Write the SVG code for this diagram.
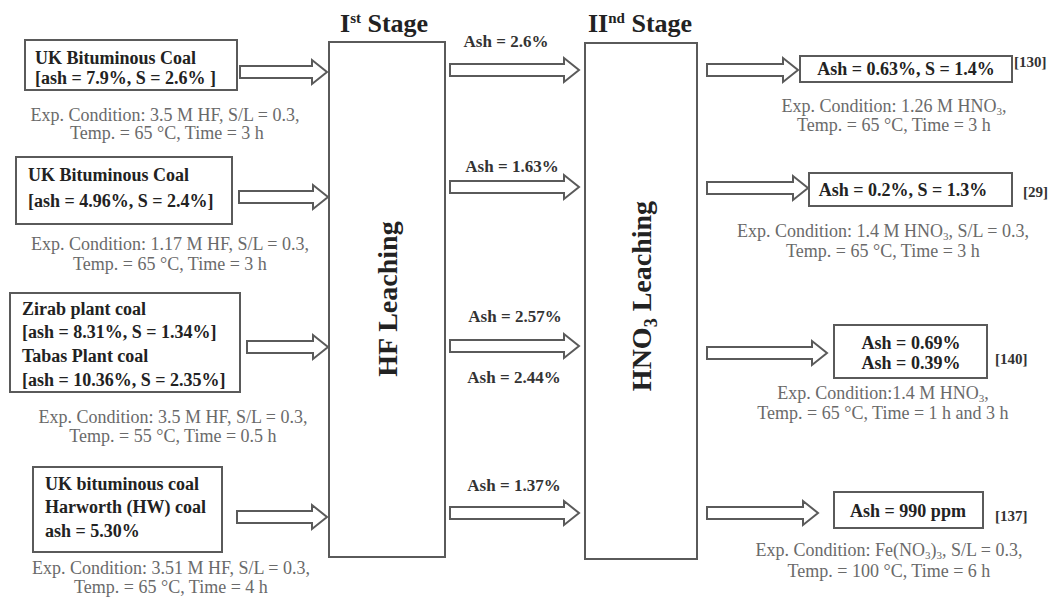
<svg xmlns="http://www.w3.org/2000/svg" width="1054" height="602" viewBox="0 0 1054 602">
<style>
.box{fill:#fff;stroke:#5a5a5a;stroke-width:2}
.arr{fill:#fff;stroke:#5a5a5a;stroke-width:2;stroke-linejoin:miter}
.b{font-family:"Liberation Serif","Times New Roman",serif;font-weight:bold;font-size:18px;fill:#222}
.lab{font-family:"Liberation Serif","Times New Roman",serif;font-weight:bold;font-size:17px;fill:#333}
.ref{font-family:"Liberation Serif","Times New Roman",serif;font-weight:bold;font-size:15px;fill:#333}
.exp{font-family:"Liberation Serif","Times New Roman",serif;font-size:18px;fill:#6a6a6a;text-anchor:middle}
.title{font-family:"Liberation Serif","Times New Roman",serif;font-weight:bold;font-size:26px;fill:#222}
.big{font-family:"Liberation Serif","Times New Roman",serif;font-weight:bold;font-size:28px;fill:#222;text-anchor:middle}
.c{text-anchor:middle}
</style>
<rect width="1054" height="602" fill="#fff"/>

<g id="titles">
<text class="title" x="340" y="32">I<tspan dy="-9" font-size="15">st</tspan><tspan dy="9"> Stage</tspan></text>
<text class="title" x="588" y="32">II<tspan dy="-9" font-size="15">nd</tspan><tspan dy="9"> Stage</tspan></text>
</g>

<g id="connectors">
<path class="arr" d="M240 66 H312 V60 L327 72 L312 84 V78 H240 Z"/>
<path class="arr" d="M239 191 H313 V185 L328 197 L313 209 V203 H239 Z"/>
<path class="arr" d="M247 341 H313 V335 L328 347 L313 359 V353 H247 Z"/>
<path class="arr" d="M237 511 H312 V505 L327 517 L312 529 V523 H237 Z"/>
<path class="arr" d="M450 64 H564 V58 L579 70 L564 82 V76 H450 Z"/>
<path class="arr" d="M450 181 H564 V175 L579 187 L564 199 V193 H450 Z"/>
<path class="arr" d="M450 340 H564 V334 L579 346 L564 358 V352 H450 Z"/>
<path class="arr" d="M450 507 H564 V501 L579 513 L564 525 V519 H450 Z"/>
<path class="arr" d="M707 64 H783 V58 L798 70 L783 82 V76 H707 Z"/>
<path class="arr" d="M707 182 H793 V176 L808 188 L793 200 V194 H707 Z"/>
<path class="arr" d="M707 347 H812 V341 L827 353 L812 365 V359 H707 Z"/>
<path class="arr" d="M707 507 H803 V501 L818 513 L803 525 V519 H707 Z"/>
<text class="lab c" x="506" y="47">Ash = 2.6%</text>
<text class="lab c" x="512" y="172">Ash = 1.63%</text>
<text class="lab c" x="515" y="322">Ash = 2.57%</text>
<text class="lab c" x="514" y="383">Ash = 2.44%</text>
<text class="lab c" x="514" y="491">Ash = 1.37%</text>
</g>

<g id="hf">
<rect class="box" x="329" y="42" width="116" height="515"/>
<text class="big" transform="translate(397,299) rotate(-90)">HF Leaching</text>
</g>

<g id="hno3">
<rect class="box" x="585" y="43" width="112" height="516"/>
<text class="big" transform="translate(651,296) rotate(-90)">HNO<tspan dy="6" font-size="18">3</tspan><tspan dy="-6"> Leaching</tspan></text>
</g>

<g id="coal1">
<rect class="box" x="25" y="40" width="212" height="50"/>
<text class="b" x="35" y="64">UK Bituminous Coal</text>
<text class="b" x="35" y="84">[ash = 7.9%, S = 2.6% ]</text>
<text class="exp" x="165" y="121">Exp. Condition: 3.5 M HF, S/L = 0.3,</text>
<text class="exp" x="167" y="139">Temp. = 65 °C, Time = 3 h</text>
</g>

<g id="coal2">
<rect class="box" x="16" y="157" width="216" height="67"/>
<text class="b" x="28" y="181">UK Bituminous Coal</text>
<text class="b" x="28" y="207">[ash = 4.96%, S = 2.4%]</text>
<text class="exp" x="170" y="250">Exp. Condition: 1.17 M HF, S/L = 0.3,</text>
<text class="exp" x="170" y="270">Temp. = 65 °C, Time = 3 h</text>
</g>

<g id="coal3">
<rect class="box" x="10" y="293" width="230" height="99"/>
<text class="b" x="22" y="315">Zirab plant coal</text>
<text class="b" x="22" y="338">[ash = 8.31%, S = 1.34%]</text>
<text class="b" x="22" y="362">Tabas Plant coal</text>
<text class="b" x="22" y="386">[ash = 10.36%, S = 2.35%]</text>
<text class="exp" x="173" y="423">Exp. Condition: 3.5 M HF, S/L = 0.3,</text>
<text class="exp" x="173" y="442">Temp. = 55 °C, Time = 0.5 h</text>
</g>

<g id="coal4">
<rect class="box" x="33" y="467" width="189" height="85"/>
<text class="b" x="45" y="490">UK  bituminous coal</text>
<text class="b" x="45" y="513">Harworth (HW) coal</text>
<text class="b" x="45" y="537">ash = 5.30%</text>
<text class="exp" x="171" y="574">Exp. Condition: 3.51 M HF, S/L = 0.3,</text>
<text class="exp" x="171" y="593">Temp. = 65 °C, Time = 4 h</text>
</g>

<g id="result1">
<rect class="box" x="800" y="56" width="212" height="26"/>
<text class="b c" x="906" y="75">Ash = 0.63%, S = 1.4%</text>
<text class="ref" x="1014" y="67">[130]</text>
<text class="exp" x="894" y="112">Exp. Condition: 1.26 M HNO<tspan dy="3" font-size="11">3</tspan><tspan dy="-3">,</tspan></text>
<text class="exp" x="894" y="131">Temp. = 65 °C, Time = 3 h</text>
</g>

<g id="result2">
<rect class="box" x="809" y="173" width="203" height="33"/>
<text class="b c" x="903" y="196">Ash = 0.2%, S = 1.3%</text>
<text class="ref" x="1023" y="197">[29]</text>
<text class="exp" x="883" y="237">Exp. Condition: 1.4 M HNO<tspan dy="3" font-size="11">3</tspan><tspan dy="-3">, S/L = 0.3,</tspan></text>
<text class="exp" x="883" y="257">Temp. = 65 °C, Time = 3 h</text>
</g>

<g id="result3">
<rect class="box" x="834" y="325" width="153" height="53"/>
<text class="b c" x="911" y="349">Ash = 0.69%</text>
<text class="b c" x="911" y="369">Ash = 0.39%</text>
<text class="ref" x="995" y="364">[140]</text>
<text class="exp" x="883" y="399">Exp. Condition:1.4 M HNO<tspan dy="3" font-size="11">3</tspan><tspan dy="-3">,</tspan></text>
<text class="exp" x="883" y="419">Temp. = 65 °C, Time = 1 h and 3 h</text>
</g>

<g id="result4">
<rect class="box" x="834" y="492" width="149" height="36"/>
<text class="b c" x="908" y="517">Ash = 990 ppm</text>
<text class="ref" x="995" y="521">[137]</text>
<text class="exp" x="889" y="556">Exp. Condition: Fe(NO<tspan dy="3" font-size="11">3</tspan><tspan dy="-3">)</tspan><tspan dy="3" font-size="11">3</tspan><tspan dy="-3">, S/L = 0.3,</tspan></text>
<text class="exp" x="889" y="577">Temp. = 100 °C, Time = 6 h</text>
</g>
</svg>
